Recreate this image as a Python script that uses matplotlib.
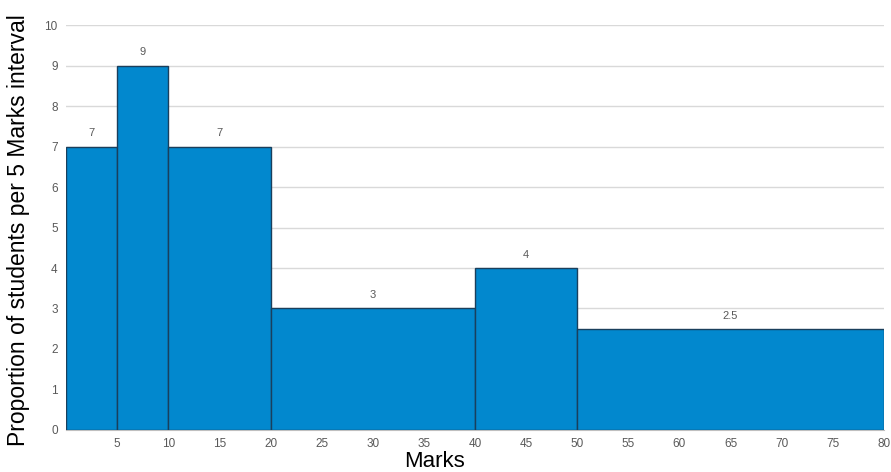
import matplotlib
matplotlib.use("Agg")
import matplotlib.pyplot as plt

bin_left = [0, 5, 10, 20, 40, 50]
bin_width = [5, 5, 10, 20, 10, 30]
heights = [7, 9, 7, 3, 4, 2.5]
labels = ["7", "9", "7", "3", "4", "2.5"]
xticks = [5, 10, 15, 20, 25, 30, 35, 40, 45, 50, 55, 60, 65, 70, 75, 80]
yticks = list(range(0, 11))

fig = plt.figure(figsize=(8.91, 4.72), dpi=100)
ax = fig.add_axes([0.0741, 0.089, 0.918, 0.858])

ax.bar(bin_left, heights, width=bin_width, align="edge", color="#0288CE",
       edgecolor="#1a3f5c", linewidth=1.0, zorder=3)
for l, w, h, t in zip(bin_left, bin_width, heights, labels):
    ax.text(l + w / 2, h + 0.2, t, ha="center", va="bottom", fontsize=8,
            color="#595959", family="Liberation Sans")

ax.set_xlim(0, 80)
ax.set_ylim(0, 10)
ax.set_xticks(xticks)
ax.set_yticks(yticks)
ax.yaxis.grid(True, color="#d9d9d9", linewidth=1.0, zorder=0)
ax.tick_params(axis="both", length=0, labelsize=8.5, labelcolor="#595959", pad=6)
for lab in ax.get_xticklabels() + ax.get_yticklabels():
    lab.set_family("Liberation Sans")
for s in ["top", "right", "left"]:
    ax.spines[s].set_visible(False)
ax.spines["bottom"].set_color("#bfbfbf")

ax.set_xlabel("Marks", fontsize=16, family="Liberation Sans", va="center")
ax.xaxis.set_label_coords(0.451, -0.077)
ax.set_ylabel("Proportion of students per 5 Marks interval", fontsize=16.5,
              family="Liberation Sans", va="center")
ax.yaxis.set_label_coords(-0.0575, 0.494)

fig.savefig("out.png", dpi=100)
